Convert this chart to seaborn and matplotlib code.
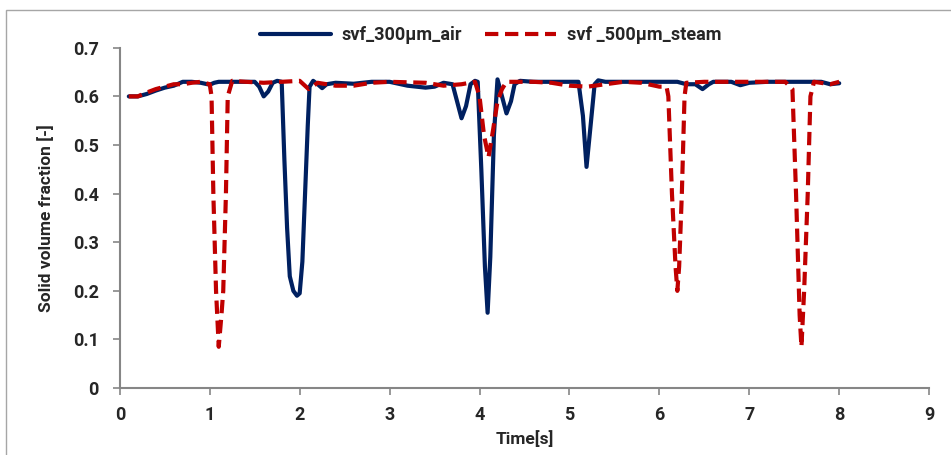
import numpy as np
import pandas as pd
import seaborn as sns
import matplotlib.pyplot as plt
from matplotlib.patches import Rectangle

# svf_300um_air
t_air = [0.1, 0.2, 0.3, 0.4, 0.5, 0.6, 0.7, 0.8, 0.9, 1.0, 1.05, 1.1, 1.2, 1.3, 1.4, 1.5,
         1.55, 1.6, 1.65, 1.7, 1.75, 1.8, 1.83, 1.86, 1.89, 1.93, 1.97, 2.0, 2.03, 2.06,
         2.09, 2.11, 2.15, 2.2, 2.25, 2.3, 2.4, 2.6, 2.8, 3.0, 3.2, 3.4, 3.5, 3.6, 3.7,
         3.75, 3.8, 3.85, 3.9, 3.95, 3.98, 4.02, 4.06, 4.09, 4.12, 4.16, 4.2, 4.25, 4.3,
         4.35, 4.39, 4.45, 4.6, 4.8, 5.0, 5.1, 5.15, 5.19, 5.23, 5.28, 5.32, 5.4, 5.6,
         5.8, 6.0, 6.2, 6.3, 6.4, 6.48, 6.55, 6.6, 6.8, 6.9, 7.0, 7.2, 7.4, 7.6, 7.8, 7.9, 8.0]
svf_air = [0.600, 0.600, 0.605, 0.612, 0.618, 0.622, 0.630, 0.630, 0.628, 0.624, 0.628, 0.630,
           0.630, 0.630, 0.630, 0.630, 0.620, 0.600, 0.610, 0.628, 0.632, 0.630, 0.470, 0.330,
           0.230, 0.200, 0.190, 0.195, 0.260, 0.400, 0.540, 0.620, 0.632, 0.625, 0.617, 0.625,
           0.628, 0.626, 0.630, 0.630, 0.622, 0.618, 0.620, 0.628, 0.625, 0.590, 0.555, 0.580,
           0.625, 0.632, 0.630, 0.450, 0.250, 0.155, 0.270, 0.520, 0.635, 0.600, 0.565, 0.590,
           0.625, 0.632, 0.630, 0.630, 0.630, 0.630, 0.560, 0.455, 0.530, 0.625, 0.633, 0.630,
           0.630, 0.630, 0.630, 0.630, 0.625, 0.625, 0.615, 0.625, 0.630, 0.630, 0.623, 0.628,
           0.630, 0.630, 0.630, 0.630, 0.625, 0.627]

# svf_500um_steam
t_steam = [0.1, 0.2, 0.3, 0.4, 0.5, 0.6, 0.7, 0.8, 0.9, 1.0, 1.02, 1.04, 1.07, 1.1, 1.13,
           1.15, 1.18, 1.2, 1.25, 1.4, 1.6, 1.8, 2.0, 2.1, 2.2, 2.4, 2.6, 2.8, 3.0, 3.4,
           3.6, 3.8, 3.95, 4.0, 4.05, 4.1, 4.15, 4.2, 4.25, 4.3, 4.6, 4.8, 5.0, 5.2, 5.4,
           5.6, 5.8, 6.0, 6.08, 6.1, 6.14, 6.18, 6.2, 6.22, 6.25, 6.28, 6.3, 6.5, 7.0, 7.4,
           7.48, 7.52, 7.56, 7.58, 7.61, 7.65, 7.68, 7.72, 7.9, 8.0]
svf_steam = [0.600, 0.600, 0.608, 0.615, 0.620, 0.625, 0.625, 0.628, 0.630, 0.625, 0.600, 0.400,
             0.200, 0.085, 0.150, 0.200, 0.400, 0.600, 0.632, 0.630, 0.628, 0.630, 0.632, 0.615,
             0.628, 0.622, 0.622, 0.628, 0.630, 0.628, 0.622, 0.625, 0.630, 0.600, 0.520, 0.475,
             0.530, 0.590, 0.615, 0.630, 0.630, 0.628, 0.622, 0.620, 0.625, 0.630, 0.628, 0.620,
             0.620, 0.600, 0.400, 0.250, 0.200, 0.250, 0.400, 0.600, 0.628, 0.630, 0.630, 0.630,
             0.615, 0.400, 0.150, 0.085, 0.200, 0.400, 0.600, 0.630, 0.625, 0.630]

df = pd.concat([
    pd.DataFrame({"t": t_air, "svf": svf_air, "series": "svf_300\u00b5m_air"}),
    pd.DataFrame({"t": t_steam, "svf": svf_steam, "series": "svf _500\u00b5m_steam"}),
])

sns.set_style("white")
plt.rcParams['font.family'] = ['Roboto', 'DejaVu Sans']
plt.rcParams['font.weight'] = 'bold'

fig = plt.figure(figsize=(9.51, 4.55), dpi=100)
ax = fig.add_axes([0.126, 0.147, 0.851, 0.748])

sns.lineplot(data=df, x="t", y="svf", hue="series", style="series",
             palette=["#002060", "#C00000"], dashes=[(None, None), (3.2, 1.6)],
             sort=False, estimator=None, linewidth=3, ax=ax, legend=True)
for ln in ax.lines:
    ln.set_solid_joinstyle('round')
    ln.set_dash_joinstyle('round')

ax.set_xlim(0, 9)
ax.set_ylim(0, 0.7)
ax.set_xticks(np.arange(0, 10, 1))
ax.set_yticks(np.arange(0, 0.71, 0.1))
ax.set_yticklabels(["0", "0.1", "0.2", "0.3", "0.4", "0.5", "0.6", "0.7"])
ax.set_xlabel("Time[s]", fontsize=12.5, fontweight='bold', labelpad=4)
ax.set_ylabel("Solid volume fraction [-]", fontsize=12.5, fontweight='bold', labelpad=14)
ax.tick_params(axis='both', labelsize=13, color='#868686', length=5, width=1.2,
               direction='out', bottom=True, left=True)
ax.tick_params(axis='y', pad=10)
ax.tick_params(axis='x', pad=8)
for lab in ax.get_xticklabels() + ax.get_yticklabels():
    lab.set_fontweight('bold')
sns.despine(ax=ax)
for s in ['left', 'bottom']:
    ax.spines[s].set_color('#868686')
    ax.spines[s].set_linewidth(1.5)

handles, labels = ax.get_legend_handles_labels()
ax.get_legend().remove()
fig.legend(handles, labels, loc='center', bbox_to_anchor=(0.516, 0.923), ncol=2,
           frameon=False, handlelength=3.9, handletextpad=0.6, columnspacing=1.3,
           prop={'weight': 'bold', 'size': 13})

fig.patches.append(Rectangle((0.0063, -0.2), 1.2, 1.178, transform=fig.transFigure,
                             fill=False, edgecolor='#A6A6A6', linewidth=1))

fig.savefig('out.png', dpi=100)
